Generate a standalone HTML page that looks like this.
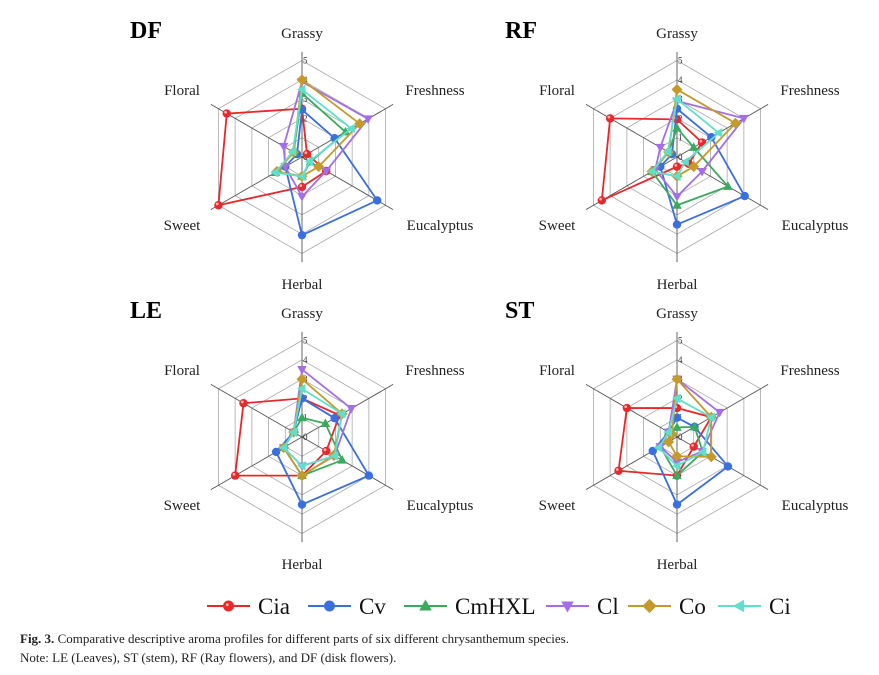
<!DOCTYPE html>
<html><head><meta charset="utf-8"><style>
body{margin:0;background:#fff;width:879px;height:675px;overflow:hidden}
svg{display:block}
.cap{position:absolute;left:20px;font-family:"Liberation Serif",serif;font-size:13px;color:#222;}
</style></head><body>
<svg id="s" width="879" height="675"></svg>
<div class="cap" style="top:631px"><b>Fig. 3.</b> Comparative descriptive aroma profiles for different parts of six different chrysanthemum species.</div>
<div class="cap" style="top:650px">Note: LE (Leaves), ST (stem), RF (Ray flowers), and DF (disk flowers).</div>
<script>
const axesNames=["Grassy","Freshness","Eucalyptus","Herbal","Sweet","Floral"];
const seriesNames=["Cia","Cv","CmHXL","Cl","Co","Ci"];
const tickLabels=["0","1","2","3","4","5"];
const panelNames=["DF","RF","LE","ST"];
// values per panel, order: Grassy, Freshness, Eucalyptus, Herbal, Sweet, Floral
const DF_Cia=[2.5,0.3,1.45,1.55,5.0,4.5];
const DF_Cv=[2.45,1.95,4.5,4.05,1.0,0.3];
const DF_CmHXL=[3.3,2.6,0.5,1.0,1.6,0.5];
const DF_Cl=[3.9,3.95,1.45,2.05,1.0,1.1];
const DF_Co=[4.0,3.45,1.0,1.0,1.5,0.5];
const DF_Ci=[3.5,2.95,0.45,1.0,1.6,0.55];
const RF_Cia=[1.95,1.5,0.7,0.5,4.5,4.0];
const RF_Cv=[2.5,2.05,4.05,3.5,1.0,0.3];
const RF_CmHXL=[1.5,1.0,3.05,2.5,1.5,0.5];
const RF_Cl=[2.9,4.0,1.5,2.05,1.3,1.0];
const RF_Co=[3.5,3.5,1.0,1.0,1.5,0.5];
const RF_Ci=[3.0,2.5,0.5,1.0,1.5,0.55];
const LE_Cia=[2.0,2.25,1.45,2.0,4.0,3.5];
const LE_Cv=[2.0,1.95,4.0,3.5,1.55,0.5];
const LE_CmHXL=[1.0,1.4,2.4,2.0,1.1,0.5];
const LE_Cl=[3.5,2.95,1.95,1.5,1.1,0.5];
const LE_Co=[3.0,2.4,1.9,2.0,1.1,0.5];
const LE_Ci=[2.5,2.4,1.95,1.5,1.1,0.5];
const ST_Cia=[1.5,2.05,1.0,2.0,3.5,3.0];
const ST_Cv=[1.0,1.05,3.05,3.5,1.45,0.5];
const ST_CmHXL=[0.5,1.05,1.55,2.0,1.0,0.5];
const ST_Cl=[3.0,2.55,1.5,1.3,1.0,0.5];
const ST_Co=[3.0,2.05,2.05,1.0,0.5,0.3];
const ST_Ci=[2.0,2.05,1.55,1.5,1.1,0.5];
const panelData=[[DF_Cia,DF_Cv,DF_CmHXL,DF_Cl,DF_Co,DF_Ci],[RF_Cia,RF_Cv,RF_CmHXL,RF_Cl,RF_Co,RF_Ci],[LE_Cia,LE_Cv,LE_CmHXL,LE_Cl,LE_Co,LE_Ci],[ST_Cia,ST_Cv,ST_CmHXL,ST_Cl,ST_Co,ST_Ci]];

const colors=["#e8282a","#3a6fe0","#3aaa5e","#a46ee6","#c49a2a","#5fe0cc"];
const markers=["sphere","circle","tri-up","tri-down","diamond","tri-left"];
const centers=[[302,157],[677,157],[302,437],[677,437]];
const UNIT=19.3, NS="http://www.w3.org/2000/svg";
const svg=document.getElementById('s');
function mk(t,a,p){const e=document.createElementNS(NS,t);for(const k in a)e.setAttribute(k,a[k]);(p||svg).appendChild(e);return e;}
function ang(i){return (90-60*i)*Math.PI/180;}
function pt(c,i,v){return [c[0]+v*UNIT*Math.cos(ang(i)),c[1]-v*UNIT*Math.sin(ang(i))];}
function marker(g,type,x,y,col){
  let e;
  const r=4.2;
  if(type==="sphere"||type==="circle"){e=mk('circle',{cx:x,cy:y,r:r,fill:col},g);
    if(type==="sphere"){mk('circle',{cx:x-1.2,cy:y-1.3,r:1.4,fill:"#ffb0b0"},g);}}
  else if(type==="tri-up")e=mk('polygon',{points:`${x},${y-5} ${x-4.8},${y+3.5} ${x+4.8},${y+3.5}`,fill:col},g);
  else if(type==="tri-down")e=mk('polygon',{points:`${x},${y+5} ${x-4.8},${y-3.5} ${x+4.8},${y-3.5}`,fill:col},g);
  else if(type==="diamond")e=mk('polygon',{points:`${x},${y-5.5} ${x+5.5},${y} ${x},${y+5.5} ${x-5.5},${y}`,fill:col},g);
  else e=mk('polygon',{points:`${x-5},${y} ${x+3.5},${y-4.8} ${x+3.5},${y+4.8}`,fill:col},g);
  return e;
}
const labelPos=[[0,-124,"middle"],[133,-67,"middle"],[138,68,"middle"],[0,127,"middle"],[-120,68,"middle"],[-120,-67,"middle"]];
panelData.forEach((data,p)=>{
  const c=centers[p];
  const g=mk('g',{});
  
  
  const t=mk('text',{x:c[0]-172,y:c[1]-119,'font-family':'Liberation Serif, serif','font-size':24,'font-weight':'bold',fill:'#000'},g);
  t.textContent=panelNames[p];
  
  
  for(let k=1;k<=5;k++){
    const pts=[];for(let i=0;i<6;i++)pts.push(pt(c,i,k).join(','));
    const h=mk('polygon',{points:pts.join(' '),fill:'none',stroke:'#aaa','stroke-width':0.8},g);
    
    
  }
  for(let i=0;i<6;i++){
    const e=pt(c,i,5.45);
    const l=mk('line',{x1:c[0],y1:c[1],x2:e[0],y2:e[1],stroke:'#555','stroke-width':0.9},g);
    
    
    const lt=mk('text',{x:c[0]+labelPos[i][0],y:c[1]+labelPos[i][1]+5,'text-anchor':labelPos[i][2],'font-family':'Liberation Serif, serif','font-size':15,fill:'#222'},g);
    lt.textContent=axesNames[i];
    
    
  }
  tickLabels.forEach((tl,k)=>{
    const tt=mk('text',{x:c[0]+1,y:c[1]-k*UNIT+3,'font-family':'Liberation Serif, serif','font-size':9,fill:'#333'},g);
    tt.textContent=tl;
    
    
  });
  data.forEach((vals,s)=>{
    const sg=mk('g',{},g);
    
    
    const pts=vals.map((v,i)=>pt(c,i,v));
    const pl=mk('polygon',{points:pts.map(q=>q.join(',')).join(' '),fill:'none',stroke:colors[s],'stroke-width':1.8},sg);
    
    
    pts.forEach(q=>{const m=marker(sg,markers[s],q[0],q[1],colors[s]);
      
      });
  });
});
// legend
const legX=[207,308,404,546,628,718];
const lg=mk('g',{});


seriesNames.forEach((n,s)=>{
  const x=legX[s],y=606;
  const eg=mk('g',{},lg);
  
  
  mk('line',{x1:x,y1:y,x2:x+43,y2:y,stroke:colors[s],'stroke-width':2},eg);
  const m=marker(eg,markers[s],x+21.5,y,colors[s]);
  m.setAttribute('transform',`translate(${x+21.5},${y}) scale(1.3) translate(${-(x+21.5)},${-y})`);
  const t=mk('text',{x:x+51,y:y+8,'font-family':'Liberation Serif, serif','font-size':23,fill:'#111'},eg);
  t.textContent=n;
});
</script>
</body></html>
